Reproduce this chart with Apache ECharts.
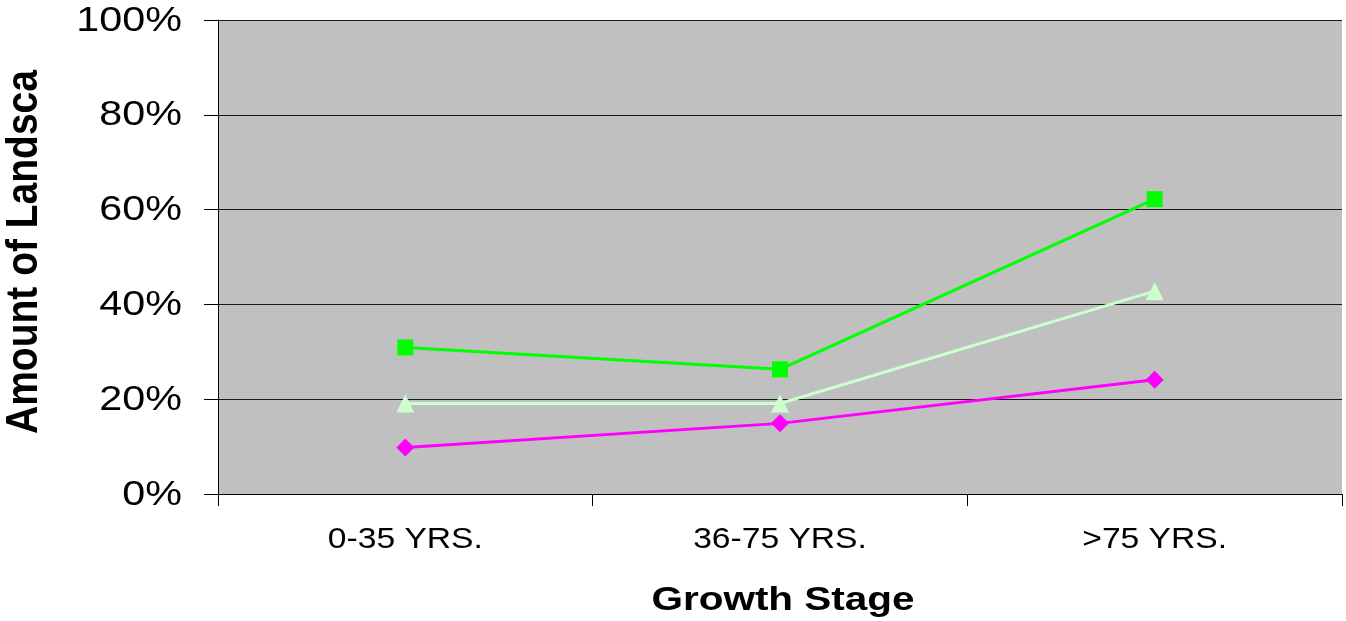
<!DOCTYPE html>
<html><head><meta charset="utf-8">
<script src="https://cdn.jsdelivr.net/npm/echarts@6/dist/echarts.min.js"></script>
<style>html,body{margin:0;padding:0;background:#fff}#c{width:1346px;height:621px}</style>
</head><body><div id="c"></div>
<script>
const categories = ['0-35 YRS.', '36-75 YRS.', '>75 YRS.'];
const seriesGreen = [30.9, 26.3, 62.2];
const seriesLight = [19.1, 19.1, 42.8];
const seriesMagenta = [9.8, 14.9, 24.1];
const yTicks = [0, 20, 40, 60, 80, 100];
const xTitle = 'Growth Stage';
const yTitle = 'Amount of Landsca';

const chart = echarts.init(document.getElementById('c'));
const font = 'Liberation Sans, Arial, sans-serif';
chart.setOption({
  animation: false,
  grid: { left: 218, right: 4, top: 20, bottom: 127, outerBoundsMode: 'none', containLabel: false,
          show: true, backgroundColor: '#C0C0C0', borderWidth: 0 },
  xAxis: {
    type: 'category', data: categories, boundaryGap: true,
    axisLine: { show: true, lineStyle: { color: '#000', width: 1 } },
    axisTick: { show: true, length: 12, lineStyle: { color: '#000' } },
    axisLabel: { show: false },
    splitLine: { show: false }
  },
  yAxis: {
    type: 'value', min: 0, max: 100, interval: 20,
    axisLine: { show: true, lineStyle: { color: '#000', width: 1 } },
    axisTick: { show: true, inside: false, length: 14, lineStyle: { color: '#000' } },
    axisLabel: { show: false },
    splitLine: { show: true, lineStyle: { color: '#1a1a1a', width: 1 } }
  },
  series: [
    { type: 'line', data: seriesGreen, symbol: 'rect', symbolSize: 16, lineStyle: { color: '#00FF00', width: 3 }, itemStyle: { color: '#00FF00' } },
    { type: 'line', data: seriesLight, symbol: 'triangle', symbolSize: 18, lineStyle: { color: '#CCFFCC', width: 3 }, itemStyle: { color: '#CCFFCC' } },
    { type: 'line', data: seriesMagenta, symbol: 'diamond', symbolSize: 18, lineStyle: { color: '#FF00FF', width: 3 }, itemStyle: { color: '#FF00FF' } }
  ]
});

// Axis texts, placed from the axes' own scales; text is widened horizontally like the reference.
const graphics = [];
yTicks.forEach(v => {
  const py = chart.convertToPixel({ yAxisIndex: 0 }, v);
  graphics.push({ type: 'text', x: 182, y: py + 1, scaleX: 1.18,
    style: { text: v + '%', font: '35px ' + font, fill: '#000', textAlign: 'right', textVerticalAlign: 'middle' } });
});
categories.forEach(c => {
  const px = chart.convertToPixel({ xAxisIndex: 0 }, c);
  graphics.push({ type: 'text', x: px, y: 540, scaleX: 1.12,
    style: { text: c, font: '30px ' + font, fill: '#000', textAlign: 'center', textVerticalAlign: 'middle' } });
});
graphics.push({ type: 'text', x: 783, y: 601, scaleX: 1.19,
  style: { text: xTitle, font: 'bold 34px ' + font, fill: '#000', textAlign: 'center', textVerticalAlign: 'middle' } });
graphics.push({ type: 'text', x: 25, y: 252, rotation: Math.PI / 2, scaleY: 1.12,
  style: { text: yTitle, font: 'bold 39px ' + font, fill: '#000', textAlign: 'center', textVerticalAlign: 'middle' } });
chart.setOption({ graphic: graphics });
</script></body></html>
